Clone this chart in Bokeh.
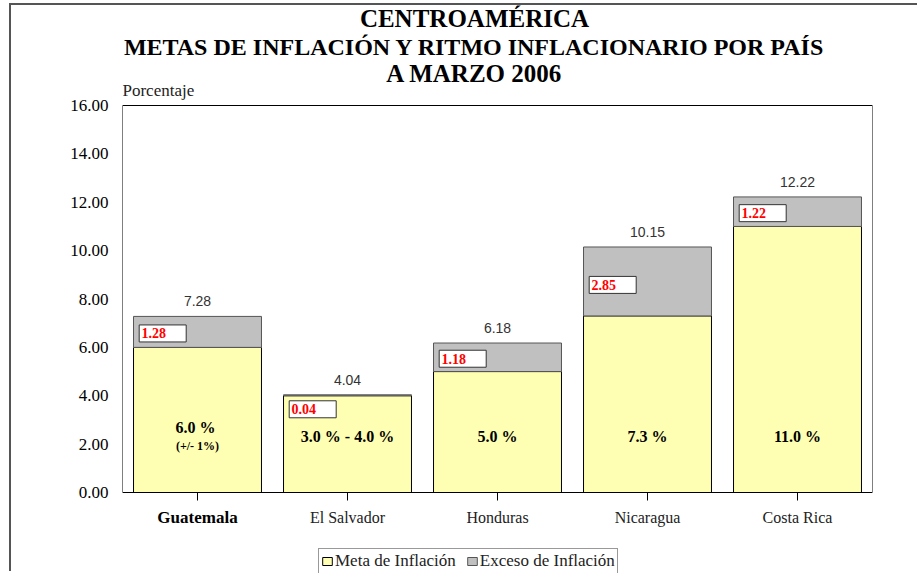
from bokeh.plotting import figure
from bokeh.models import (ColumnDataSource, Legend, LegendItem, FactorRange,
                          Range1d, FixedTicker, NumeralTickFormatter)
from bokeh.transform import dodge
from bokeh.core.properties import value
from bokeh.embed import file_html
from bokeh.resources import INLINE

# ---- data ----
countries = ["Guatemala", "El Salvador", "Honduras", "Nicaragua", "Costa Rica"]
meta = [6.0, 4.0, 5.0, 7.3, 11.0]          # Meta de Inflación
exceso = [1.28, 0.04, 1.18, 2.85, 1.22]    # Exceso de Inflación
total = [7.28, 4.04, 6.18, 10.15, 12.22]   # Ritmo inflacionario
meta_labels = ["6.0  %", "3.0 % - 4.0 %", "5.0 %", "7.3 %", "11.0 %"]
meta_notes = ["(+/- 1%)", "", "", "", ""]
y_ticks = [0, 2, 4, 6, 8, 10, 12, 14, 16]
title_lines = ["CENTROAMÉRICA",
               "METAS DE INFLACIÓN Y RITMO INFLACIONARIO POR PAÍS",
               "A MARZO 2006"]
y_caption = "Porcentaje"
bold_country = "Guatemala"

SERIF = "Liberation Serif"
SANS = "Liberation Sans"
YELLOW = "#FFFFB3"
GRAY = "#C0C0C0"

# ---- geometry (pixels) ----
FIG_W, FIG_H = 908, 568
TOP_PAD = 100          # space above the plot box (inside the frame)
BOX_H = 387            # height of the plot box in px
ppu = BOX_H / 16.0     # px per data unit
y_lo = -(FIG_H - TOP_PAD - BOX_H) / ppu
y_hi = 16 + TOP_PAD / ppu
n = len(countries)

box_y = [min(t - 0.6, m + e * 0.45) for t, m, e in zip(total, meta, exceso)]
src = ColumnDataSource(dict(
    country=countries, meta=meta, exceso=exceso, total=total,
    total_lbl=[f"{t:.2f}" for t in total],
    exc_lbl=[f"{e:.2f}" for e in exceso],
    box_y=box_y,
    meta_lbl=meta_labels,
    meta_y=[2.3] * n,
    meta_off=[-9 if s else 0 for s in meta_notes],
    note=meta_notes,
    zero=[0] * n,
    tick_end=[-8 / ppu] * n,
    xstyle=["bold" if c == bold_country else "normal" for c in countries],
    xcolor=["black" if c == bold_country else "#222" for c in countries],
    xsize=["17px" if c == bold_country else "16px" for c in countries],
))

p = figure(x_range=FactorRange(*countries), y_range=Range1d(y_lo, y_hi),
           width=FIG_W, height=FIG_H, output_backend="svg", toolbar_location=None,
           min_border_left=111, min_border_top=0, min_border_right=47,
           min_border_bottom=0)
p.styles = {"border-left": "2px solid #555", "border-top": "2px solid #555",
            "margin-left": "9px", "margin-top": "3px"}
p.title = None
p.xgrid.visible = False
p.ygrid.visible = False
p.xaxis.visible = False
p.outline_line_color = None
p.background_fill_color = "white"
p.border_fill_color = "white"

W = 0.853
r_meta = p.vbar(x="country", top="meta", bottom=0, width=W, source=src,
                fill_color=YELLOW, line_color="black", line_width=1)
r_exc = p.vbar(x="country", top="total", bottom="meta", width=W, source=src,
               fill_color=GRAY, line_color="#555", line_width=1)

# plot box and category ticks
p.quad(left=0, right=n, bottom=0, top=16, fill_color=None, line_color="black",
       line_width=1)
p.segment(x0="country", y0="zero", x1="country", y1="tick_end", source=src,
          line_color="black", line_width=1)

# red value boxes
p.rect(x=dodge("country", -0.232, range=p.x_range), y="box_y", width=47, height=17,
       width_units="screen", height_units="screen", source=src,
       fill_color="white", line_color="#333", line_width=1)
p.text(x=dodge("country", -0.374, range=p.x_range), y="box_y", text="exc_lbl",
       source=src, text_color="red", text_font=value(SERIF), text_font_style="bold",
       text_font_size="14px", text_baseline="middle", text_align="left")

# totals above bars
p.text(x="country", y="total", text="total_lbl", source=src, text_color="#333",
       text_font=value(SANS), text_font_size="14px", text_align="center",
       text_baseline="bottom", y_offset=-10)

# inner labels
p.text(x="country", y="meta_y", text="meta_lbl", source=src, y_offset="meta_off",
       text_color="black", text_font=value(SERIF), text_font_style="bold",
       text_font_size="16px", text_align="center", text_baseline="middle")
p.text(x="country", y="meta_y", text="note", source=src, y_offset=9,
       text_color="black", text_font=value(SERIF), text_font_style="bold",
       text_font_size="12px", text_align="center", text_baseline="middle")

# category labels
p.text(x="country", y="zero", text="country", source=src, y_offset=25,
       text_color="xcolor", text_font=value(SERIF), text_font_style="xstyle",
       text_font_size="xsize", text_align="center", text_baseline="middle")

# y axis
p.yaxis.ticker = FixedTicker(ticks=y_ticks)
p.yaxis.formatter = NumeralTickFormatter(format="0.00")
p.yaxis.major_tick_line_color = None
p.yaxis.minor_tick_line_color = None
p.yaxis.major_tick_out = 0
p.yaxis.axis_line_color = None
p.yaxis.major_label_standoff = 14
p.yaxis.major_label_text_font = SERIF
p.yaxis.major_label_text_font_size = "17px"
p.yaxis.major_label_text_color = "black"

# titles and caption
title_src = ColumnDataSource(dict(x=[n * 0.4693] * 3, y=[16] * 3, text=title_lines,
                                  off=[-87, -59, -32],
                                  size=["25px", "24px", "25px"]))
p.text(x="x", y="y", text="text", y_offset="off", source=title_src,
       text_font=value(SERIF), text_font_style="bold", text_font_size="size",
       text_color="black", text_align="center", text_baseline="middle")
p.text(x=[0], y=[16], text=[y_caption], y_offset=-15, text_font=value(SERIF),
       text_font_size="17px", text_color="#222", text_align="left",
       text_baseline="middle")

legend = Legend(items=[LegendItem(label="Meta de Inflación", renderers=[r_meta]),
                       LegendItem(label="Exceso de Inflación", renderers=[r_exc])],
                orientation="horizontal", location=(196, -1),
                label_text_font=SERIF, label_text_font_size="17px",
                label_text_color="#222", glyph_width=12, glyph_height=10,
                label_height=17, label_standoff=2, spacing=10, padding=2,
                margin=0, border_line_color="#333", border_line_width=1,
                background_fill_color="white", background_fill_alpha=1)
p.add_layout(legend, "center")

open("out.html", "w").write(file_html(p, INLINE))
